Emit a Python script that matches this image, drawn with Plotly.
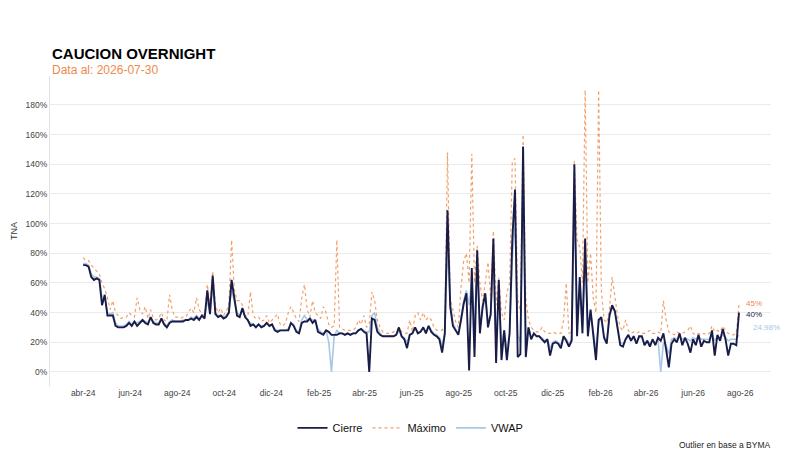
import pandas as pd
import plotly.graph_objects as go

# ---------------------------------------------------
# DATA (one point every 3.5 days)
# ---------------------------------------------------

cierre = [
    72, 72, 71, 64, 62, 63, 62, 45, 52, 38, 38, 38, 31,
    30, 30, 30, 31, 33, 31, 34, 31, 33, 35, 33, 32, 37, 33, 32, 32, 36, 32, 30, 33, 34, 34, 34, 34, 34, 35, 35, 36,
    35, 37, 35, 38, 36, 55, 39, 65, 39, 37, 38, 36, 37, 40, 62, 50, 38, 37, 43, 37, 35, 31, 32, 30, 32, 30, 31, 33,
    31, 32, 28, 27, 28, 28, 28, 28, 33, 31, 27, 26, 33,
    34, 34, 36, 33, 35, 27, 26, 25, 28, 27, 25, 25, 25, 26, 26, 25, 26, 25, 26, 26, 28, 29, 27, 26, 0, 36, 35, 27,
    25, 24, 24, 24, 24, 24, 25, 30, 24, 22, 16, 25, 26,
    30, 26, 27, 30, 26, 31, 27, 25, 24, 22, 13, 26, 109, 44, 31, 28, 25, 35, 46, 53, 1, 70, 10, 82, 26, 44, 53, 30,
    39, 90, 6, 62, 8, 28, 8, 26, 89, 123, 10, 12, 152,
    10, 30, 22, 26, 24, 24, 22, 20, 22, 11, 19, 20, 19, 16, 24, 21, 17, 21, 140, 24, 64, 26, 90, 24, 42, 27, 8, 35,
    37, 23, 19, 38, 45, 41, 28, 18, 17, 22, 25, 21, 24,
    19, 24, 24, 18, 21, 17, 22, 18, 23, 21, 26, 15, 3, 19, 22, 20, 26, 18, 23, 19, 13, 22, 18, 25, 17, 21, 20, 20,
    28, 11, 25, 21, 29, 22, 11, 19, 19, 18, 40,
]

maximo = [
    77, 75, 75, 72, 70, 68, 66, 60, 56, 50, 42, 48, 40,
    38, 36, 37, 37, 40, 38, 37, 50, 42, 39, 44, 36, 42, 36, 35, 36, 40, 35, 34, 52, 42, 37, 37, 36, 37, 37, 40, 43,
    40, 50, 42, 39, 38, 59, 45, 68, 45, 40, 43, 38, 41, 45, 89, 56, 48, 48, 45, 38, 37, 54, 38, 36, 37, 34, 35, 38,
    33, 35, 37, 39, 32, 31, 33, 40, 44, 40, 36, 34, 50,
    59, 42, 37, 48, 40, 38, 36, 44, 40, 32, 30, 31, 89, 30, 29, 28, 28, 28, 28, 30, 35, 32, 38, 30, 32, 54, 48, 35,
    30, 27, 26, 26, 26, 27, 28, 30, 27, 26, 26, 35, 27,
    38, 40, 35, 40, 35, 37, 35, 30, 28, 28, 28, 31, 148, 50, 42, 34, 30, 57, 75, 80, 60, 147, 60, 85, 60, 48, 60, 74,
    50, 95, 45, 64, 40, 35, 53, 60, 141, 144, 50, 40, 160,
    50, 35, 30, 28, 27, 27, 30, 27, 26, 26, 27, 26, 26, 26, 35, 60, 26, 27, 142, 89, 84, 60, 190, 60, 80, 50, 40, 190,
    55, 35, 33, 42, 64, 50, 38, 30, 28, 35, 28, 26, 27,
    26, 27, 26, 26, 27, 28, 26, 26, 27, 26, 48, 35, 27, 26, 25, 27, 26, 26, 27, 28, 31, 26, 25, 26, 25, 26, 25, 26,
    31, 27, 28, 27, 31, 28, 26, 25, 25, 26, 45,
]

vwap = [
    73, 73, 72, 66, 64, 64, 63, 50, 50, 40, 39, 40, 33, 31, 31, 31, 32, 34, 32, 34, 33, 34, 35, 34, 33, 36, 34, 33,
    33, 35, 33, 31, 34, 35, 34, 34, 34, 35, 35, 35, 37,
    36, 38, 36, 38, 37, 48, 40, 58, 40, 38, 38, 37, 38, 41, 55, 48, 40, 38, 41, 37, 35, 33, 32, 31, 32, 31, 31, 33,
    31, 32, 29, 28, 28, 28, 28, 29, 33, 32, 28, 27, 35,
    38, 35, 36, 35, 35, 29, 27, 26, 28, 20, 0, 24, 28, 26, 26, 25, 26, 25, 26, 26, 28, 29, 28, 27, 27, 38, 40, 30,
    26, 24, 24, 24, 24, 24, 25, 28, 24, 23, 20, 25, 26,
    30, 27, 27, 30, 27, 31, 28, 26, 25, 23, 18, 26, 85, 48, 33, 29, 26, 36, 48, 55, 45, 62, 30, 70, 30, 42, 50, 34,
    38, 75, 20, 55, 18, 28, 15, 26, 75, 105, 25, 20, 130,
    20, 30, 23, 26, 24, 24, 23, 21, 22, 16, 20, 21, 20, 18, 24, 22, 19, 22, 115, 30, 60, 30, 80, 28, 40, 28, 15, 33,
    36, 24, 21, 37, 43, 41, 29, 20, 19, 22, 24, 22, 24,
    20, 24, 23, 19, 21, 19, 22, 19, 22, 0, 20, 18, 12,
    22, 23, 22, 24, 22, 23, 22, 21, 23, 22, 24, 22, 22, 22, 22, 25, 21, 24, 23, 25, 23, 21, 22, 22, 22, 24.98,
]

assert len(cierre) == len(maximo) == len(vwap), (len(cierre), len(maximo), len(vwap))

fechas = pd.date_range("2024-04-01", periods=len(cierre), freq="84h")

tick_fechas = pd.date_range("2024-04-01", "2026-08-01", freq="2MS")
tick_labels = ["abr-24", "jun-24", "ago-24", "oct-24", "dic-24", "feb-25", "abr-25", "jun-25",
               "ago-25", "oct-25", "dic-25", "feb-26", "abr-26", "jun-26", "ago-26"]

y_ticks = [0, 20, 40, 60, 80, 100, 120, 140, 160, 180]
y_labels = [f"{v}%" for v in y_ticks]

# colours
NAVY = "#191c47"
ORANGE = "#f2a06a"
ORANGE_TXT = "#ee8a4a"
BLUE = "#a8c8e6"

FONT = "Liberation Sans, Arial, sans-serif"

# ---------------------------------------------------
# FIGURE
# ---------------------------------------------------

fig = go.Figure()

fig.add_trace(go.Scatter(
    x=fechas, y=maximo, mode="lines", name="Máximo", legendrank=2,
    line=dict(color=ORANGE, width=1.2, dash="dot")
))
fig.add_trace(go.Scatter(
    x=fechas, y=vwap, mode="lines", name="VWAP", legendrank=3,
    line=dict(color=BLUE, width=1.6)
))
fig.add_trace(go.Scatter(
    x=fechas, y=cierre, mode="lines", name="Cierre", legendrank=1,
    line=dict(color=NAVY, width=1.9)
))

# end-of-series labels
fin = fechas[-1]
fig.add_annotation(x=fin, y=maximo[-1], text=f"{maximo[-1]:g}%", showarrow=False,
                   xanchor="left", xshift=5, yshift=2,
                   font=dict(size=8, color=ORANGE_TXT, family=FONT))
fig.add_annotation(x=fin, y=cierre[-1], text=f"{cierre[-1]:g}%", showarrow=False,
                   xanchor="left", xshift=5, yshift=-2,
                   font=dict(size=8, color=NAVY, family=FONT))
fig.add_annotation(x=fin, y=vwap[-1], text=f"{vwap[-1]:g}%", showarrow=False,
                   xanchor="left", xshift=12, yshift=7,
                   font=dict(size=8, color=BLUE, family=FONT))

# title / subtitle / caption
fig.add_annotation(xref="paper", yref="paper", x=0, y=1.071, text="<b>CAUCION OVERNIGHT</b>",
                   showarrow=False, xanchor="left", yanchor="middle",
                   font=dict(size=15, color="#000000", family=FONT))
fig.add_annotation(xref="paper", yref="paper", x=0, y=1.018, text="Data al: 2026-07-30",
                   showarrow=False, xanchor="left", yanchor="middle",
                   font=dict(size=12, color=ORANGE_TXT, family=FONT))
fig.add_annotation(xref="paper", yref="paper", x=1.003, y=-0.19, text="Outlier en base a BYMA",
                   showarrow=False, xanchor="right", yanchor="middle",
                   font=dict(size=8.5, color="#222222", family=FONT))

# the page body adds an 8px offset, so the figure is 8px smaller than the window
fig.update_layout(
    width=792, height=455,
    margin=dict(l=42, r=29, t=68, b=77),
    paper_bgcolor="white", plot_bgcolor="white",
    font=dict(family=FONT, size=9, color="#444444"),
    showlegend=True,
    legend=dict(orientation="h", x=0.5, xanchor="center", y=-0.135, yanchor="middle",
                font=dict(size=11, color="#111111"), itemwidth=30, bgcolor="rgba(0,0,0,0)"),
)

fig.update_xaxes(
    range=["2024-02-18", "2026-09-10"],
    tickvals=tick_fechas, ticktext=tick_labels, automargin=False,
    showgrid=False, zeroline=False, showline=False, ticks="",
    tickfont=dict(size=8.5, color="#444444"),
)
fig.update_yaxes(
    range=[-9.5, 199.5], automargin=False,
    tickvals=y_ticks, ticktext=y_labels,
    showgrid=True, gridcolor="#ebebeb", gridwidth=1,
    zeroline=False, showline=True, linecolor="#e3e3e3", linewidth=1, ticks="",
    tickfont=dict(size=8.5, color="#444444"),
    title=dict(text="TNA", font=dict(size=9, color="#333333"), standoff=6),
)

fig.write_html("out.html")
